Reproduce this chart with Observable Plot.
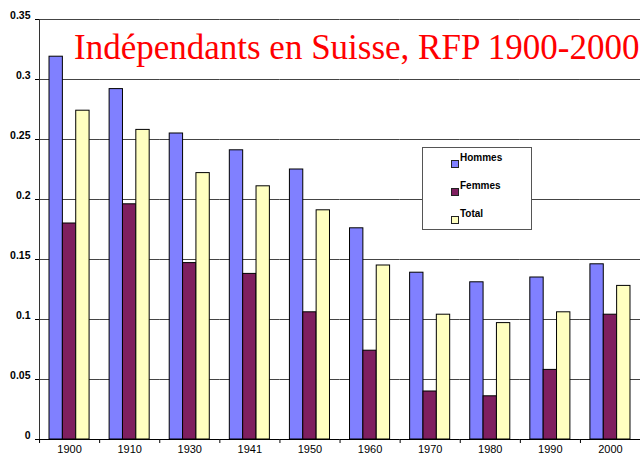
<!DOCTYPE html>
<html>
<head>
<meta charset="utf-8">
<script src="https://cdn.jsdelivr.net/npm/d3@7"></script>
<script src="https://cdn.jsdelivr.net/npm/@observablehq/plot@0.6"></script>
<style>
  html, body { margin: 0; padding: 0; background: #fff; }
  #wrap { position: relative; width: 640px; height: 456px; overflow: hidden; }
  #title { position: absolute; left: 74px; top: 30px; font-family: "Liberation Serif", "Times New Roman", serif; font-size: 35px; line-height: 35px; color: #ff0000; white-space: nowrap; }
  #legend { position: absolute; left: 422px; top: 147px; width: 110px; height: 83px; box-sizing: border-box; border: 1px solid #555; background: #fff; font-family: "Liberation Sans", Arial, sans-serif; font-weight: bold; font-size: 10px; }
  .sw { position: absolute; width: 8px; height: 8px; box-sizing: border-box; border: 1px solid #222; }
  .lb { position: absolute; line-height: 10px; white-space: nowrap; }
</style>
</head>
<body>
<div id="wrap"></div>
<script>
const years = ["1900","1910","1930","1941","1950","1960","1970","1980","1990","2000"];
const hommes = [0.319,0.292,0.255,0.241,0.225,0.176,0.139,0.131,0.135,0.146];
const femmes = [0.180,0.196,0.147,0.138,0.106,0.074,0.040,0.036,0.058,0.104];
const total  = [0.274,0.258,0.222,0.211,0.191,0.145,0.104,0.097,0.106,0.128];
const seriesNames = ["Hommes","Femmes","Total"];
const seriesColors = ["#8080FF","#7F1F5F","#FFFFC0"];
const yTicks = [0,0.05,0.1,0.15,0.2,0.25,0.3,0.35];
const titleText = "Indépendants en Suisse, RFP 1900-2000";

const seriesValues = [hommes, femmes, total];
const data = years.flatMap((year, i) => seriesNames.map((s, j) => ({year, series: s, value: seriesValues[j][i]})));

const chart = Plot.plot({
  width: 640, height: 456,
  marginLeft: 39, marginRight: 0, marginTop: 19, marginBottom: 17,
  style: {fontFamily: "'Liberation Sans', Arial, sans-serif", fontSize: "11px", color: "#000", background: "#fff"},
  fx: {domain: years, padding: 0, round: false, label: null},
  x: {domain: seriesNames, paddingInner: 0, paddingOuter: 0.75, round: false, axis: null},
  y: {domain: [0, 0.35], label: null},
  color: {domain: seriesNames, range: seriesColors},
  marks: [
    Plot.ruleY(yTicks.slice(1), {stroke: "#444", strokeWidth: 1}),
    Plot.barY(data, {fx: "year", x: "series", y: "value", fill: "series", stroke: "#000", strokeWidth: 1}),
    Plot.ruleY([0], {stroke: "#000"}),
    Plot.frame({anchor: "left", facetAnchor: "left", stroke: "#333", strokeWidth: 1}),
    Plot.axisY({ticks: yTicks, tickSize: 4, text: null, label: null}),
    Plot.axisY({ticks: yTicks, tickSize: 0, tickPadding: 9, dy: -4, fontWeight: "bold", fontSize: 10.5, tickFormat: d => String(d), label: null}),
    Plot.axisFx({anchor: "bottom", tickSize: 0, tickPadding: 6, label: null, fontSize: 11}),
    Plot.axisFx({anchor: "bottom", tickSize: 4, text: null, dx: -30, label: null})
  ]
});

const wrap = document.getElementById("wrap");
wrap.appendChild(chart);

const title = document.createElement("div");
title.id = "title";
title.textContent = titleText;
wrap.appendChild(title);

const legend = document.createElement("div");
legend.id = "legend";
seriesNames.forEach((s, i) => {
  const sw = document.createElement("div");
  sw.className = "sw";
  sw.style.left = "28px";
  sw.style.top = (12 + 28 * i) + "px";
  sw.style.background = seriesColors[i];
  legend.appendChild(sw);
  const lb = document.createElement("div");
  lb.className = "lb";
  lb.style.left = "37px";
  lb.style.top = (5 + 28 * i) + "px";
  lb.textContent = s;
  legend.appendChild(lb);
});
wrap.appendChild(legend);
</script>
</body>
</html>
